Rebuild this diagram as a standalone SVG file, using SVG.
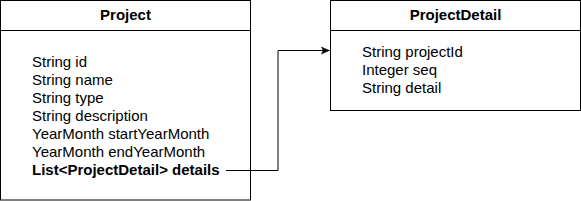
<svg xmlns="http://www.w3.org/2000/svg" width="581" height="201" viewBox="0 0 581 201">
<style>
.box{fill:#fff;stroke:#000;stroke-width:1}
.t{font-family:"Liberation Sans",Arial,Helvetica,sans-serif;font-size:15px;fill:#000}
.b{font-weight:bold}
.c{text-anchor:middle}
.edge{fill:none;stroke:#000;stroke-width:1}
</style>
<defs>
<marker id="arrow" viewBox="0 0 10 10" refX="9" refY="5" markerWidth="9" markerHeight="9" markerUnits="userSpaceOnUse" orient="auto">
<path d="M0,1 L9,5 L0,9 L2,5 Z" fill="#000" stroke="#000" stroke-width="0.5"/>
</marker>
</defs>
<g id="project">
<rect class="box" x="0.5" y="0.5" width="250" height="199.5"/>
<line class="edge" x1="0.5" y1="30.5" x2="250.5" y2="30.5"/>
<text class="t b c" x="125.5" y="20">Project</text>
<text class="t" x="32" y="67">String id</text>
<text class="t" x="32" y="85">String name</text>
<text class="t" x="32" y="103">String type</text>
<text class="t" x="32" y="121">String description</text>
<text class="t" x="32" y="139">YearMonth startYearMonth</text>
<text class="t" x="32" y="157">YearMonth endYearMonth</text>
<text class="t b" x="32" y="175">List&lt;ProjectDetail&gt; details</text>
</g>
<g id="projectDetail">
<rect class="box" x="330.5" y="0.5" width="250" height="110"/>
<line class="edge" x1="330.5" y1="30.5" x2="580.5" y2="30.5"/>
<text class="t b c" x="455.5" y="20">ProjectDetail</text>
<text class="t" x="362" y="57">String projectId</text>
<text class="t" x="362" y="75">Integer seq</text>
<text class="t" x="362" y="93">String detail</text>
</g>
<g id="connectors">
<path class="edge" d="M226,170.5 H278 V50.5 H329.5" marker-end="url(#arrow)"/>
</g>
</svg>
